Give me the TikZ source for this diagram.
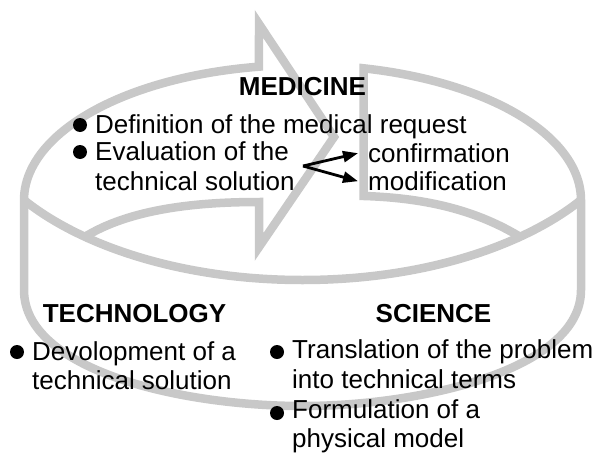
\documentclass[tikz,border=0pt]{standalone}
\usepackage{fontspec}
\setmainfont{Liberation Sans}
\usetikzlibrary{arrows.meta}
\definecolor{rimgray}{RGB}{200,200,200}
\begin{document}
\begin{tikzpicture}[x=1pt,y=-1pt,
  rim/.style={draw=rimgray, line width=8.5pt, line join=miter, miter limit=10},
  head/.style={font=\fontsize{26}{30}\selectfont\bfseries, inner sep=0pt, anchor=base},
  item/.style={font=\fontsize{26}{30}\selectfont, inner sep=0pt, anchor=base west},
  dot/.style={circle, fill=black, inner sep=0pt, minimum size=14pt},
  pointer/.style={draw=black, line width=2.8pt, -{Triangle[length=15pt,width=11pt]}}
]
\useasboundingbox (0,0) rectangle (599,455);

% cylinder: arrow-shaped left half of the lid, walls, base, D-shaped right half
\draw[rim] (83,238) .. controls (130,208) and (200,202) .. (259,202)
  -- (259,247) -- (334,137) -- (259,24)
  -- plot[domain=261.01:180, samples=50] ({302.5+278.5*cos(\x)},{200+135*sin(\x)})
  -- (24,290) .. controls (24,370) and (180,406) .. (302.5,406)
  .. controls (420,406) and (581,370) .. (581,290)
  -- plot[domain=360:282.7, samples=50] ({302.5+278.5*cos(\x)},{200+135*sin(\x)})
  -- (363.7,196) .. controls (430,198) and (480,212) .. (522,238);

% front rim of the lid
\draw[rim] (24,200) .. controls (80,245) and (180,280) .. (302.5,280)
  .. controls (425,280) and (525,245) .. (581,200);

% MEDICINE
\node[head] (med) at (302.5,95) {MEDICINE};
\node[dot] (bm1) at (80,125) {};
\node[item] (m1) at (95,133) {Definition of the medical request};
\node[dot] (bm2) at (80,152) {};
\node[item] (m2) at (95,160) {Evaluation of the};
\node[item] (m3) at (95,190) {technical solution};
\node[item] (conf) at (368,162.5) {confirmation};
\node[item] (modi) at (368,190.5) {modification};
\coordinate (fork) at (303,166);
\draw[pointer] (fork) -- ([xshift=-10pt]conf.west);
\draw[pointer] (fork) -- ([xshift=-10pt]modi.west);

% TECHNOLOGY
\node[head] (tech) at (134.5,322) {TECHNOLOGY};
\node[dot] (bt1) at (17,352) {};
\node[item] (t1) at (32,360) {Devolopment of a};
\node[item] (t2) at (32,389) {technical solution};

% SCIENCE
\node[head] (sci) at (433.5,322) {SCIENCE};
\node[dot] (bs1) at (277,352) {};
\node[item] (s1) at (292,358) {Translation of the problem};
\node[item] (s2) at (292,388) {into technical terms};
\node[dot] (bs2) at (277,413) {};
\node[item] (s3) at (292,418) {Formulation of a};
\node[item] (s4) at (292,447) {physical model};
\end{tikzpicture}
\end{document}
